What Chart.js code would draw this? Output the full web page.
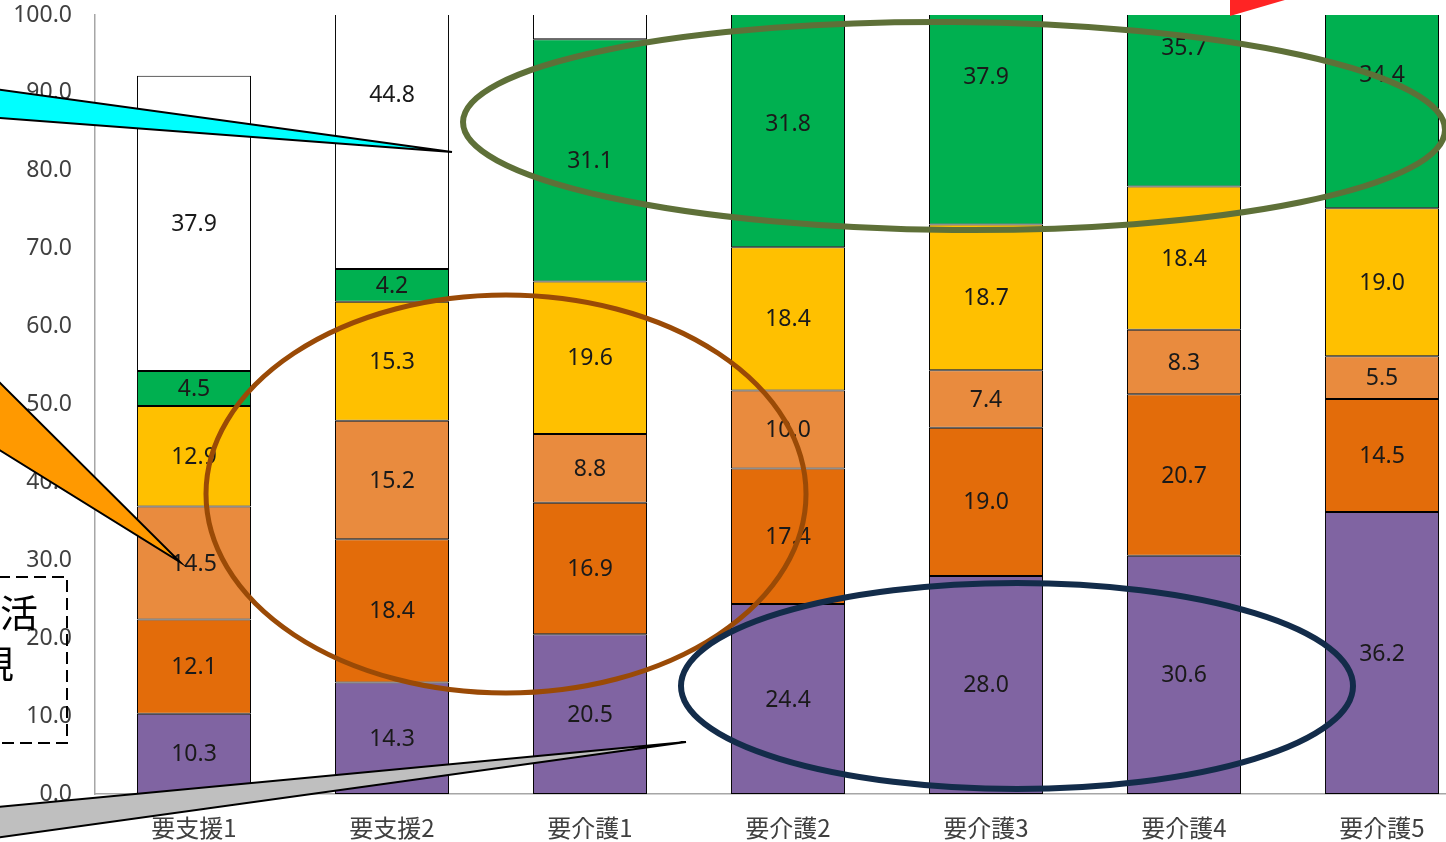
<!DOCTYPE html>
<html lang="ja">
<head>
    <meta charset="UTF-8">
    <title>要介護度別 積み上げ棒グラフ</title>
    <style>
        html, body {
            margin: 0;
            padding: 0;
            background: white;
            overflow: hidden;
        }
        .chart-box {
            width: 1481px;
            height: 842px;
        }
    </style>
    <script src="https://cdn.jsdelivr.net/npm/chart.js"></script>
</head>
<body>
    <div class="chart-box">
        <canvas id="careChart"></canvas>
    </div>

    <script>
        // カテゴリ
        const categories = ['要支援1', '要支援2', '要介護1', '要介護2', '要介護3', '要介護4', '要介護5'];

        // 系列 (下から順に積み上げ)
        const seriesPurple = [10.3, 14.3, 20.5, 24.4, 28.0, 30.6, 36.2];
        const seriesDarkOrange = [12.1, 18.4, 16.9, 17.4, 19.0, 20.7, 14.5];
        const seriesLightOrange = [14.5, 15.2, 8.8, 10.0, 7.4, 8.3, 5.5];
        const seriesYellow = [12.9, 15.3, 19.6, 18.4, 18.7, 18.4, 19.0];
        const seriesGreen = [4.5, 4.2, 31.1, 31.8, 37.9, 35.7, 34.4];
        const seriesWhite = [37.9, 44.8, 10.0, 0, 0, 0, 0];

        const yTicks = [0, 10, 20, 30, 40, 50, 60, 70, 80, 90, 100];

        const seriesList = [
            { data: seriesPurple, color: '#8064A2' },
            { data: seriesDarkOrange, color: '#E36C0A' },
            { data: seriesLightOrange, color: '#E98B3E' },
            { data: seriesYellow, color: '#FFC000' },
            { data: seriesGreen, color: '#00B050' },
            { data: seriesWhite, color: '#FFFFFF' }
        ];

        // 各セグメント中央に値を描く (表示範囲外はクリップ)
        const segmentLabels = {
            id: 'segmentLabels',
            afterDatasetsDraw(chart) {
                const ctx = chart.ctx;
                const area = chart.chartArea;
                const y = chart.scales.y;
                ctx.save();
                ctx.beginPath();
                ctx.rect(area.left, area.top, area.right - area.left, area.bottom - area.top);
                ctx.clip();
                ctx.font = '23px "Noto Sans", sans-serif';
                ctx.fillStyle = '#1a1a1a';
                ctx.textAlign = 'center';
                ctx.textBaseline = 'middle';
                categories.forEach((cat, i) => {
                    let base = 0;
                    chart.data.datasets.forEach((ds, d) => {
                        const v = ds.data[i];
                        if (!v) return;
                        const mid = base + v / 2;
                        base += v;
                        if (d === 5 && i > 1) return; // 上端外の白系列は値不明
                        const bar = chart.getDatasetMeta(d).data[i];
                        ctx.fillText(v.toFixed(1), bar.x, y.getPixelForValue(mid) + 1);
                    });
                });
                ctx.restore();
            }
        };

        // 重ねられた図形 (吹き出し・楕円・破線枠)
        const overlayShapes = {
            id: 'overlayShapes',
            afterDraw(chart) {
                const ctx = chart.ctx;
                ctx.save();

                function tri(points, fill) {
                    ctx.beginPath();
                    ctx.moveTo(points[0][0], points[0][1]);
                    for (let k = 1; k < points.length; k++) ctx.lineTo(points[k][0], points[k][1]);
                    ctx.closePath();
                    ctx.fillStyle = fill;
                    ctx.fill();
                    ctx.lineWidth = 2;
                    ctx.strokeStyle = '#000';
                    ctx.stroke();
                }

                function ring(cx, cy, rx, ry, rot, color, w) {
                    ctx.beginPath();
                    ctx.ellipse(cx, cy, rx, ry, rot, 0, Math.PI * 2);
                    ctx.lineWidth = w;
                    ctx.strokeStyle = color;
                    ctx.stroke();
                }

                // 吹き出し
                tri([[-12, 88], [452, 152], [-12, 117]], '#00FFFF');
                tri([[-12, 371], [180, 562], [-12, 443]], '#FF9900');
                tri([[-12, 808], [686, 742], [-12, 839]], '#BFBFBF');

                ctx.beginPath();
                ctx.moveTo(1230, -5);
                ctx.lineTo(1230, 16);
                ctx.lineTo(1302, -5);
                ctx.closePath();
                ctx.fillStyle = '#FF2424';
                ctx.fill();

                // 楕円
                ring(954, 126, 491, 104, 0.008, '#5E7038', 6);
                ring(506, 494, 300, 199, 0, '#9A4A06', 5);
                ring(1017, 686, 336, 103, 0, '#132C4A', 6);

                // 破線枠
                ctx.setLineDash([12, 6]);
                ctx.lineWidth = 2;
                ctx.strokeStyle = '#000';
                ctx.strokeRect(-20, 577, 87, 166);
                ctx.setLineDash([]);

                ctx.fillStyle = '#000';
                ctx.font = '38px "Noto Sans CJK JP", sans-serif';
                ctx.textAlign = 'left';
                ctx.textBaseline = 'middle';
                ctx.fillText('活', 0, 613);
                ctx.fillText('規', -24, 664);

                ctx.restore();
            }
        };

        window.onload = function() {
            const ctx = document.getElementById('careChart').getContext('2d');

            new Chart(ctx, {
                type: 'bar',
                data: {
                    labels: categories,
                    datasets: seriesList.map(s => ({
                        data: s.data,
                        backgroundColor: s.color,
                        borderColor: '#000',
                        borderWidth: 1,
                        borderSkipped: false,
                        barPercentage: 1,
                        categoryPercentage: 0.576,
                        clip: 0
                    }))
                },
                options: {
                    responsive: true,
                    maintainAspectRatio: false,
                    animation: false,
                    layout: {
                        padding: { top: 15, right: 0, bottom: 0, left: 0 }
                    },
                    plugins: {
                        legend: { display: false },
                        tooltip: { enabled: false }
                    },
                    scales: {
                        x: {
                            stacked: true,
                            grid: { display: false, drawTicks: false },
                            border: { color: '#A6A6A6', width: 1.5 },
                            ticks: {
                                color: '#404040',
                                font: { family: '"Noto Sans CJK JP", sans-serif', size: 24 },
                                padding: 19,
                                maxRotation: 0
                            },
                            afterFit(scale) { scale.height = 48; }
                        },
                        y: {
                            stacked: true,
                            min: 0,
                            max: 100,
                            grid: { display: false, drawTicks: true, tickLength: 23 },
                            border: { color: '#A6A6A6', width: 1.5 },
                            afterBuildTicks(scale) {
                                scale.ticks = yTicks.map(v => ({ value: v }));
                            },
                            ticks: {
                                color: '#404040',
                                font: { family: '"Noto Sans", sans-serif', size: 23 },
                                padding: 0,
                                callback: v => Number(v).toFixed(1)
                            },
                            afterFit(scale) { scale.width = 95; }
                        }
                    }
                },
                plugins: [segmentLabels, overlayShapes]
            });
        };
    </script>
</body>
</html>
